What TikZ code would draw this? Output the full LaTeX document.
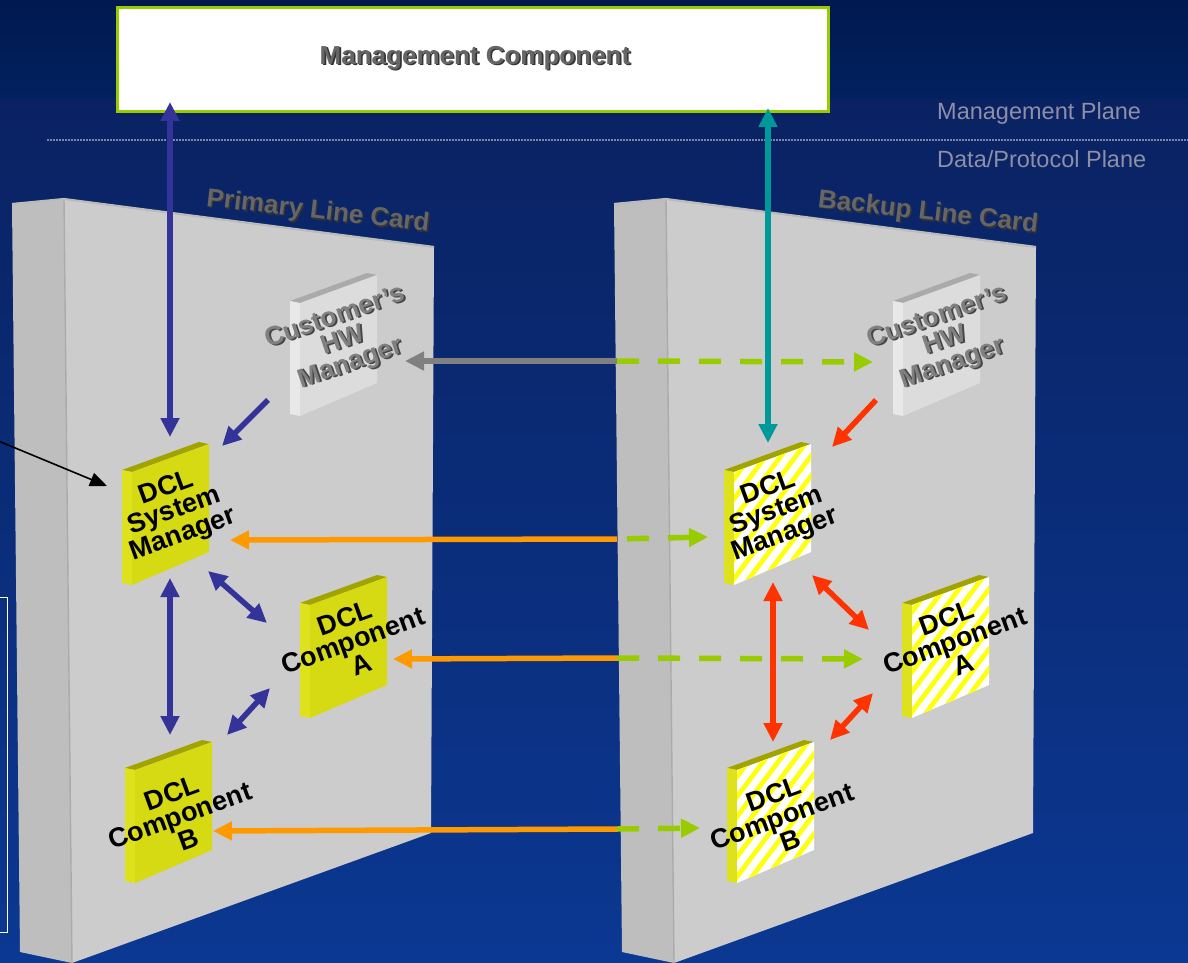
\documentclass[tikz,border=0pt]{standalone}
\usepackage{fontspec}
\setmainfont{Liberation Sans}
\usetikzlibrary{arrows.meta}

\definecolor{bgTop}{HTML}{001A50}
\definecolor{bgMid}{HTML}{022160}
\definecolor{bgLow}{HTML}{0A2262}
\definecolor{bgBot}{HTML}{0B3892}
\definecolor{mgGreen}{HTML}{99CC00}
\definecolor{cardFront}{HTML}{CCCCCC}
\definecolor{cardSide}{HTML}{BEBEBE}
\definecolor{cardEdge}{HTML}{ABABAB}
\definecolor{cardTop}{HTML}{BBBBBB}
\definecolor{dclYellow}{HTML}{D6DA12}
\definecolor{dclSide}{HTML}{DEE21C}
\definecolor{dclTop}{HTML}{A3A300}
\definecolor{stripeY}{HTML}{FFFF10}
\definecolor{hwFront}{HTML}{DCDCDC}
\definecolor{hwSide}{HTML}{E8E8E8}
\definecolor{hwTop}{HTML}{AAAAAA}
\definecolor{arBlue}{HTML}{333399}
\definecolor{arTeal}{HTML}{009999}
\definecolor{arRed}{HTML}{FF3300}
\definecolor{arOrange}{HTML}{FF9900}
\definecolor{arGray}{HTML}{808080}
\definecolor{arGreen}{HTML}{99CC00}
\definecolor{planeText}{HTML}{8C8FA6}
\definecolor{dotLine}{HTML}{7C86A8}
\definecolor{lblText}{HTML}{666666}
\definecolor{lblShadow}{HTML}{333333}
\definecolor{hwText}{HTML}{808080}
\definecolor{hwShadow}{HTML}{454545}

% 3D slab: name, "x,y" of front top-left, front fill, side fill, top fill
\newcommand{\slab}[5]{%
  \coordinate (#1) at (#2);
  \begin{scope}[shift={(#2)}]
    \fill[#5] (-10,-2) -- (67,-30) -- (77,-28) -- (0,0) -- cycle;
    \fill[#4] (-10,-2) -- (0,0) -- (0,113) -- (-10,111) -- cycle;
    \fill[#3] (0,0) -- (77,-28) -- (77,80) -- (0,113) -- cycle;
  \end{scope}}
% yellow stripes on a slab front face
\newcommand{\hatchface}[1]{%
  \begin{scope}[shift={(#1)}]
    \clip (0,0) -- (77,-28) -- (77,80) -- (0,113) -- cycle;
    \foreach \k in {-2,...,15}
      \draw[stripeY, line width=4.8] (\k*15-130,160) -- ++(150,-200);
  \end{scope}}
% text with a drop shadow: name, position, style, shadow colour, text colour, offset, text
\newcommand{\shadowtext}[7]{%
  \node[#3, text=#4, xshift=#6pt, yshift=-#6pt] (#1-sh) at (#2) {#7};
  \node[#3, text=#5] (#1) at (#2) {#7};}

\begin{document}
\begin{tikzpicture}[x=1pt,y=-1pt,
  oneway/.style={line width=5.5, -{Triangle[length=19pt,width=18pt]}},
  twoway/.style={line width=5.5, {Triangle[length=19pt,width=18pt]}-{Triangle[length=19pt,width=18pt]}},
  dashway/.style={line width=5.5, arGreen, dash pattern=on 22pt off 19pt, -{Triangle[length=19pt,width=18pt]}},
  pointer/.style={line width=1.6, black, -{Triangle[length=17pt,width=14pt]}},
  dcltext/.style={font=\fontsize{27}{24}\selectfont\bfseries, text=black, align=center, rotate=20, inner sep=0},
  hwtext/.style={font=\fontsize{26.5}{24.5}\selectfont\bfseries, align=center, rotate=19, inner sep=0},
  cardlabel/.style={font=\fontsize{26}{28}\selectfont\bfseries, rotate=-6.5, inner sep=0},
  mgtext/.style={font=\fontsize{26}{28}\selectfont\bfseries, inner sep=0},
  planelabel/.style={font=\fontsize{23.5}{26}\selectfont, text=planeText, anchor=west, inner sep=0}]
\useasboundingbox (0,0) rectangle (1188,963);

% background
\fill[top color=bgTop, bottom color=bgMid] (0,0) rectangle (1188,100);
\fill[top color=bgLow, bottom color=bgBot] (0,100) rectangle (1188,963);

% plane separator
\draw[dotLine, line width=1, dash pattern=on 1.5pt off 1.5pt] (47,140) -- (1188,140);
\node[planelabel] (mplane) at (937,113) {Management Plane};
\node[planelabel] (dplane) at (937,159) {Data/Protocol Plane};

% left partial outline
\draw[white, line width=1] (-2,597) -- (7,597) -- (7,932) -- (-2,932);

% management component
\node[draw=mgGreen, line width=2.2, fill=white, minimum width=711, minimum height=104, inner sep=0] (mgmt) at (473,59.5) {};
\shadowtext{mgmtTxt}{475,58}{mgtext}{lblShadow}{lblText}{1.6}{Management Component}

% line cards
\foreach \sx in {0,602}{
  \begin{scope}[xshift=\sx]
    \fill[cardSide] (12,204) -- (64,199) -- (72,963) -- (20,952) -- cycle;
    \fill[cardFront] (64,199) -- (434,247) -- (431,833) -- (72,963) -- cycle;
    \draw[cardEdge, line width=1.4] (64,199) -- (72,963);
    \draw[cardTop, line width=2.2] (12,204) -- (64,199) -- (434,247);
  \end{scope}}
\shadowtext{primLbl}{318,212}{cardlabel}{lblShadow}{lblText}{1.6}{Primary Line Card}
\shadowtext{backLbl}{928,213}{cardlabel}{lblShadow}{lblText}{1.6}{Backup Line Card}

% primary card components
\slab{hwL}{300,303}{hwFront}{hwSide}{hwTop}
\slab{smL}{132,472}{dclYellow}{dclSide}{dclTop}
\slab{aL}{310,605}{dclYellow}{dclSide}{dclTop}
\slab{bL}{135,770}{dclYellow}{dclSide}{dclTop}

% backup card components
\slab{hwR}{903,303}{hwFront}{hwSide}{hwTop}
\slab{smR}{734,472}{white}{dclSide}{dclTop}
\slab{aR}{912,605}{white}{dclSide}{dclTop}
\slab{bR}{737,770}{white}{dclSide}{dclTop}
\hatchface{734,472}
\hatchface{912,605}
\hatchface{737,770}

% connector end points
\coordinate (mgL) at (170,102);
\coordinate (smLn) at (170,437);
\coordinate (hwLo) at (268,400);
\coordinate (smLne) at (222,446);
\coordinate (smLse) at (208,571);
\coordinate (aLnw) at (267,623);
\coordinate (smLs) at (170,578);
\coordinate (bLn) at (170,735);
\coordinate (bLne) at (227,735);
\coordinate (aLsw) at (270,688);
\coordinate (ptrS) at (-4,440);
\coordinate (ptrE) at (107,486);
\coordinate (hwLe) at (405,361);
\coordinate (rowHW) at (617,361);
\coordinate (hwRw) at (873,362);
\coordinate (smLe) at (230,540);
\coordinate (rowSM) at (617,539);
\coordinate (smRw) at (708,537);
\coordinate (aLe) at (393,659);
\coordinate (rowA) at (617,658);
\coordinate (aRw) at (863,659);
\coordinate (bLe) at (213,831);
\coordinate (rowB) at (617,829);
\coordinate (bRw) at (700,828);
\coordinate (mgR) at (768,108);
\coordinate (smRn) at (768,443);
\coordinate (hwRo) at (876,400);
\coordinate (smRne) at (832,447);
\coordinate (smRse) at (812,575);
\coordinate (aRnw) at (869,630);
\coordinate (smRs) at (773,582);
\coordinate (bRn) at (773,742);
\coordinate (bRne) at (830,740);
\coordinate (aRsw) at (873,693);

% primary card connectors
\draw[twoway, arBlue] (mgL) -- (smLn);
\draw[oneway, arBlue] (hwLo) -- (smLne);
\draw[twoway, arBlue] (smLse) -- (aLnw);
\draw[twoway, arBlue] (smLs) -- (bLn);
\draw[twoway, arBlue] (bLne) -- (aLsw);
\draw[pointer] (ptrS) -- (ptrE);

% cross-card connectors
\draw[oneway, arGray] (rowHW) -- (hwLe);
\draw[dashway] (rowHW) -- (hwRw);
\draw[oneway, arOrange] (rowSM) -- (smLe);
\draw[dashway, dash phase=-10pt] (rowSM) -- (smRw);
\draw[oneway, arOrange] (rowA) -- (aLe);
\draw[dashway] (rowA) -- (aRw);
\draw[oneway, arOrange] (rowB) -- (bLe);
\draw[dashway] (rowB) -- (bRw);

% backup card connectors
\draw[twoway, arTeal] (mgR) -- (smRn);
\draw[oneway, arRed] (hwRo) -- (smRne);
\draw[twoway, arRed] (smRse) -- (aRnw);
\draw[twoway, arRed] (smRs) -- (bRn);
\draw[twoway, arRed] (bRne) -- (aRsw);

% component labels
\shadowtext{hwLt}{343,341}{hwtext}{hwShadow}{hwText}{1.6}{Customer’s\\HW\\Manager}
\shadowtext{hwRt}{945,341}{hwtext}{hwShadow}{hwText}{1.6}{Customer’s\\HW\\Manager}
\node[dcltext] (smLt) at (175,512) {DCL\\System\\Manager};
\node[dcltext] (smRt) at (777,512) {DCL\\System\\Manager};
\node[dcltext] (aLt) at (353,641) {DCL\\Component\\A};
\node[dcltext] (aRt) at (955,641) {DCL\\Component\\A};
\node[dcltext] (bLt) at (180,816) {DCL\\Component\\B};
\node[dcltext] (bRt) at (782,817) {DCL\\Component\\B};
\end{tikzpicture}
\end{document}
